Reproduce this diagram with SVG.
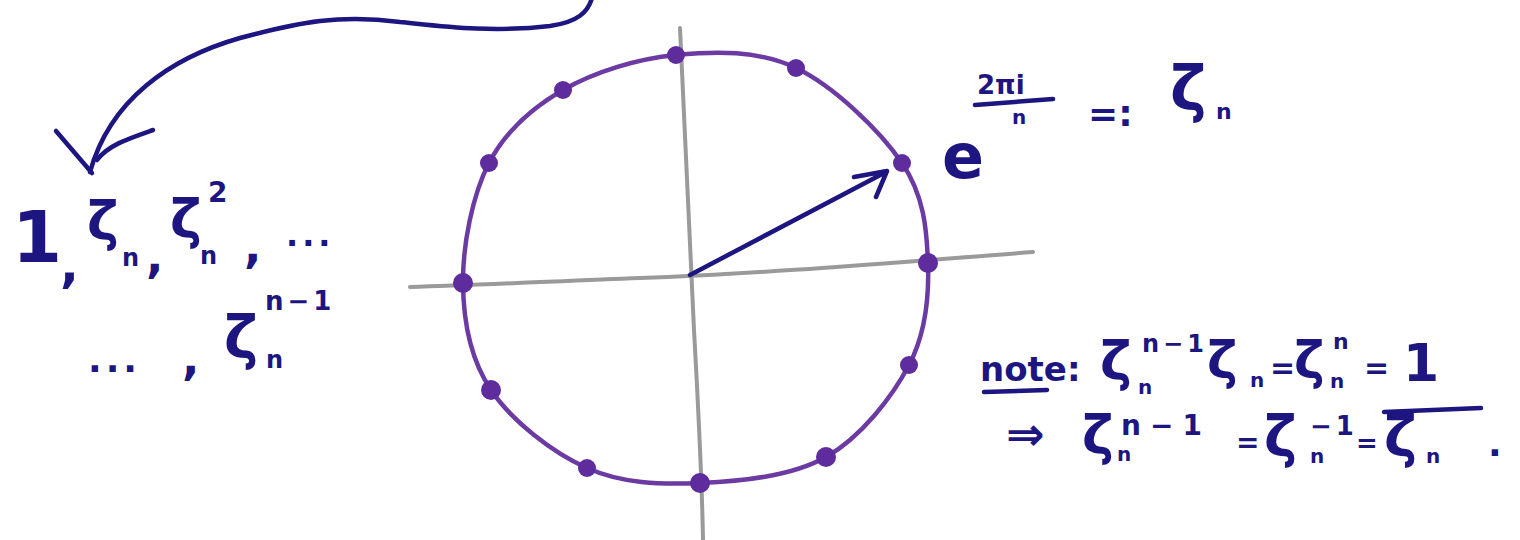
<svg xmlns="http://www.w3.org/2000/svg" width="1520" height="540" viewBox="0 0 1520 540">
<style>
.ink{font-family:"DejaVu Sans","Noto Sans",sans-serif;fill:#1d1580;font-weight:bold}
.sp{letter-spacing:4px}
.pen{fill:none;stroke:#1d1580;stroke-width:4.5;stroke-linecap:round;stroke-linejoin:round}
.axis{fill:none;stroke:#9a9a9a;stroke-width:4;stroke-linecap:round}
.circ{fill:none;stroke:#6b3aa3;stroke-width:4.5}
.dot{fill:#5e2c9c}
</style>
<rect width="1520" height="540" fill="#ffffff"/>
<g id="axes">
<path class="axis" d="M410,287 C480,285 560,281 640,278 C760,274 900,262 1033,252"/>
<path class="axis" d="M680,28 C686,150 690,250 694,330 C699,420 702,480 703,540"/>
</g>
<g id="unit-circle">
<path class="circ" d="M676,55 C714.8,51.3 758.3,50 796,68 C833.7,86 880,130.5 902,163 C924,195.5 926.8,229.3 928,263 C929.2,296.7 926,332.7 909,365 C892,397.3 860.8,437.3 826,457 C791.2,476.7 739.8,481.2 700,483 C660.2,484.8 621.8,483.5 587,468 C552.2,452.5 511.7,420.8 491,390 C470.3,359.2 463.3,320.8 463,283 C462.7,245.2 472.3,195.2 489,163 C505.7,130.8 531.8,108 563,90 C594.2,72 637.2,58.7 676,55 Z"/>
<g id="roots">
<circle class="dot" cx="676" cy="55" r="9"/>
<circle class="dot" cx="796" cy="68" r="9"/>
<circle class="dot" cx="902" cy="163" r="9"/>
<circle class="dot" cx="928" cy="263" r="10"/>
<circle class="dot" cx="909" cy="365" r="9"/>
<circle class="dot" cx="826" cy="457" r="10"/>
<circle class="dot" cx="700" cy="483" r="10"/>
<circle class="dot" cx="587" cy="468" r="9"/>
<circle class="dot" cx="491" cy="390" r="10"/>
<circle class="dot" cx="463" cy="283" r="10"/>
<circle class="dot" cx="489" cy="163" r="9"/>
<circle class="dot" cx="563" cy="90" r="9"/>
</g>
</g>
<g id="connectors">
<path class="pen" d="M592,-2 C588,12 578,22 550,26 C490,33 440,26 400,22 C340,14 300,22 240,38 C170,58 110,100 90,172"/>
<path class="pen" d="M56,131 L92,173 M153,130 C130,138 108,145 97,160"/>
<path class="pen" d="M690,275 L886,172 M854,177 L887,171 L876,197"/>
</g>
<g id="list-label">
<text class="ink" x="12" y="262" font-size="72">1</text>
<text class="ink" x="60" y="282" font-size="50">,</text>
<text class="ink" x="87" y="240" font-size="54">ζ</text>
<text class="ink" x="122" y="266" font-size="24">n</text>
<text class="ink" x="146" y="272" font-size="46">,</text>
<text class="ink" x="170" y="238" font-size="54">ζ</text>
<text class="ink" x="208" y="202" font-size="28">2</text>
<text class="ink" x="200" y="264" font-size="24">n</text>
<text class="ink" x="244" y="262" font-size="46">,</text>
<text class="ink sp" x="286" y="246" font-size="32">...</text>
<text class="ink sp" x="88" y="372" font-size="36">...</text>
<text class="ink" x="182" y="374" font-size="46">,</text>
<text class="ink" x="224" y="358" font-size="58">ζ</text>
<text class="ink" x="266" y="368" font-size="24">n</text>
<text class="ink sp" x="265" y="310" font-size="26">n−1</text>
</g>
<g id="definition-label">
<text class="ink" x="942" y="178" font-size="62">e</text>
<text class="ink" x="977" y="94" font-size="26">2πi</text>
<line class="pen" x1="975" y1="105" x2="1053" y2="99"/>
<text class="ink" x="1012" y="124" font-size="20">n</text>
<text class="ink" x="1088" y="126" font-size="36">=:</text>
<text class="ink" x="1170" y="110" font-size="62">ζ</text>
<text class="ink" x="1216" y="119" font-size="22">n</text>
</g>
<g id="note-label">
<text class="ink" x="980" y="381" font-size="34">note:</text>
<line class="pen" x1="984" y1="392" x2="1047" y2="390"/>
<text class="ink" x="1100" y="380" font-size="54">ζ</text>
<text class="ink" x="1138" y="394" font-size="20">n</text>
<text class="ink sp" x="1142" y="352" font-size="24">n−1</text>
<text class="ink" x="1207" y="378" font-size="52">ζ</text>
<text class="ink" x="1250" y="387" font-size="20">n</text>
<text class="ink" x="1270" y="378" font-size="30">=</text>
<text class="ink" x="1294" y="378" font-size="52">ζ</text>
<text class="ink" x="1330" y="388" font-size="20">n</text>
<text class="ink" x="1333" y="349" font-size="22">n</text>
<text class="ink" x="1364" y="378" font-size="30">=</text>
<text class="ink" x="1403" y="381" font-size="52">1</text>
<text class="ink" x="1006" y="450" font-size="46">⇒</text>
<text class="ink" x="1082" y="454" font-size="54">ζ</text>
<text class="ink" x="1117" y="461" font-size="20">n</text>
<text class="ink" x="1121" y="435" font-size="28" letter-spacing="9">n−1</text>
<text class="ink" x="1236" y="452" font-size="28">=</text>
<text class="ink" x="1264" y="456" font-size="56">ζ</text>
<text class="ink" x="1310" y="463" font-size="20">n</text>
<text class="ink sp" x="1310" y="435" font-size="26">−1</text>
<text class="ink" x="1356" y="452" font-size="26">=</text>
<text class="ink" x="1384" y="456" font-size="56">ζ</text>
<text class="ink" x="1426" y="463" font-size="20">n</text>
<line class="pen" x1="1384" y1="412" x2="1481" y2="408"/>
<text class="ink" x="1488" y="456" font-size="36">.</text>
</g>
</svg>
